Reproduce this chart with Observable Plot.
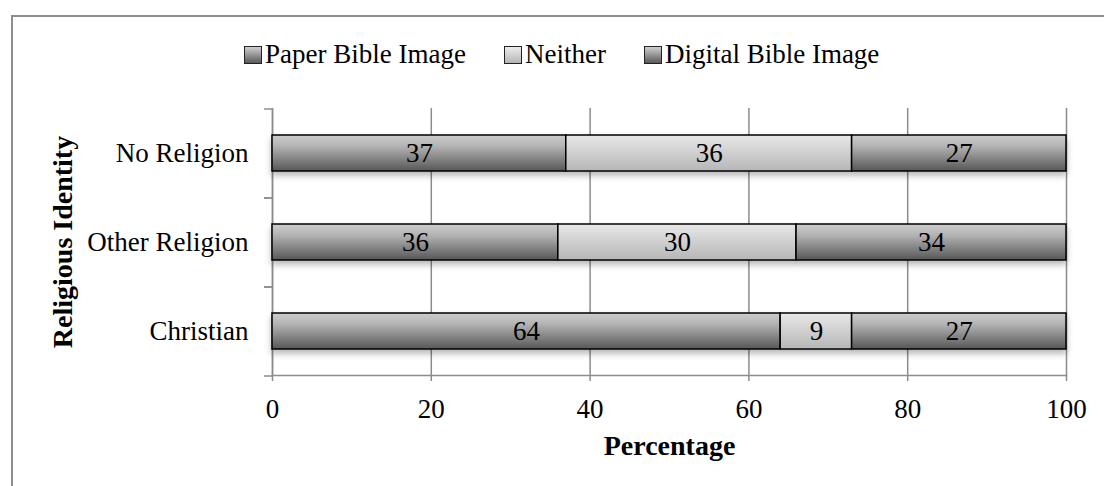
<!DOCTYPE html>
<html>
<head>
<meta charset="utf-8">
<script src="https://cdn.jsdelivr.net/npm/d3@7"></script>
<script src="https://cdn.jsdelivr.net/npm/@observablehq/plot@0.6"></script>
<style>
  html, body { margin: 0; padding: 0; background: #fff; overflow: hidden; }
  #wrap { position: relative; width: 1104px; height: 486px; overflow: hidden; font-family: "Liberation Serif", serif; }
  #border { position: absolute; left: 11px; top: 15px; width: 1200px; height: 600px; border: 2px solid #8e8e8e; box-sizing: border-box; }
  #chart { position: absolute; left: 0; top: 0; }
  #legend { position: absolute; left: 244px; top: 41px; display: flex; align-items: center; font-size: 27px; line-height: 27px; color: #000; }
  .item { display: flex; align-items: center; margin-right: 38px; }
  .sw { width: 16px; height: 16px; border: 1.5px solid #222; margin-right: 3px; }
</style>
</head>
<body>
<div id="wrap">
  <div id="border"></div>
  <div id="chart"></div>
  <div id="legend"></div>
</div>
<script>
const categories = ["No Religion", "Other Religion", "Christian"];
const seriesNames = ["Paper Bible Image", "Neither", "Digital Bible Image"];
const paper = [37, 36, 64];
const neither = [36, 30, 9];
const digital = [27, 34, 27];
const xTicks = [0, 20, 40, 60, 80, 100];
const xLabel = "Percentage";
const yLabel = "Religious Identity";

const seriesValues = [paper, neither, digital];
const data = categories.flatMap((cat, i) =>
  seriesNames.map((s, j) => ({cat, series: s, value: seriesValues[j][i]})));

const fillFor = {
  "Paper Bible Image": "url(#gDark)",
  "Neither": "url(#gLight)",
  "Digital Bible Image": "url(#gDark)"
};
const cssFill = {
  "Paper Bible Image": "linear-gradient(#cfcfcf, #5a5a5a)",
  "Neither": "linear-gradient(#ececec, #b5b5b5)",
  "Digital Bible Image": "linear-gradient(#cfcfcf, #5a5a5a)"
};

const gray = "#8c8c8c";

const chart = Plot.plot({
  width: 1104,
  height: 486,
  marginLeft: 272,
  marginRight: 38,
  marginTop: 108,
  marginBottom: 111,
  style: {fontFamily: "Liberation Serif", fontSize: "27px", color: "#000", background: "transparent", overflow: "visible"},
  x: {domain: [0, 100]},
  y: {domain: categories, paddingInner: 0.6, paddingOuter: 0.3},
  color: {type: "identity"},
  marks: [
    Plot.gridX(xTicks, {stroke: gray, strokeOpacity: 1, strokeWidth: 1.5}),
    Plot.axisX(xTicks, {tickSize: 6, tickPadding: 17, stroke: gray, strokeWidth: 1.5, fill: "#000", label: null, fontSize: 27}),
    Plot.axisY({tickSize: 0, tickPadding: 24, label: null, fill: "#000", fontSize: 27}),
    Plot.axisY(categories, {tickSize: 8, tickFormat: () => "", dy: -44.5, stroke: gray, strokeWidth: 1.5, label: null}),
    Plot.axisY(categories, {tickSize: 8, tickFormat: () => "", dy: 44.5, stroke: gray, strokeWidth: 1.5, label: null}),
    Plot.ruleX([0], {stroke: gray, strokeWidth: 1.5}),
    Plot.frame({anchor: "bottom", stroke: gray, strokeWidth: 1.5}),
    Plot.barX(data, Plot.stackX({x: "value", y: "cat", z: "series", fill: d => fillFor[d.series], stroke: "#000", strokeWidth: 1.5})),
    Plot.text(data, Plot.stackX({x: "value", y: "cat", z: "series", text: d => String(d.value), fill: "#000", fontSize: 27})),
    Plot.text([xLabel], {frameAnchor: "bottom", lineAnchor: "middle", dy: 71, fontWeight: "bold", fontSize: 28, fill: "#000", text: d => d}),
    Plot.text([yLabel], {frameAnchor: "left", lineAnchor: "middle", dx: -209, rotate: -90, textAnchor: "middle", fontWeight: "bold", fontSize: 28, fill: "#000", text: d => d})
  ]
});

// gradient + shadow definitions
const ns = "http://www.w3.org/2000/svg";
const defs = document.createElementNS(ns, "defs");
defs.innerHTML = `
  <linearGradient id="gDark" x1="0" y1="0" x2="0" y2="1">
    <stop offset="0" stop-color="#cdcdcd"/>
    <stop offset="0.3" stop-color="#b4b4b4"/>
    <stop offset="1" stop-color="#575757"/>
  </linearGradient>
  <linearGradient id="gLight" x1="0" y1="0" x2="0" y2="1">
    <stop offset="0" stop-color="#e8e8e8"/>
    <stop offset="1" stop-color="#b6b6b6"/>
  </linearGradient>
  <filter id="shadow" x="-5%" y="-20%" width="110%" height="160%">
    <feDropShadow dx="0" dy="4" stdDeviation="3" flood-color="#000" flood-opacity="0.28"/>
  </filter>`;
chart.insertBefore(defs, chart.firstChild);
chart.querySelectorAll('g[aria-label="bar"]').forEach(g => g.setAttribute("filter", "url(#shadow)"));

document.getElementById("chart").appendChild(chart);

const legend = document.getElementById("legend");
seriesNames.forEach((s, i) => {
  const item = document.createElement("div");
  item.className = "item";
  if (i === seriesNames.length - 1) item.style.marginRight = "0";
  const sw = document.createElement("div");
  sw.className = "sw";
  sw.style.background = cssFill[s];
  const t = document.createElement("span");
  t.textContent = s;
  item.appendChild(sw);
  item.appendChild(t);
  legend.appendChild(item);
});
</script>
</body>
</html>
